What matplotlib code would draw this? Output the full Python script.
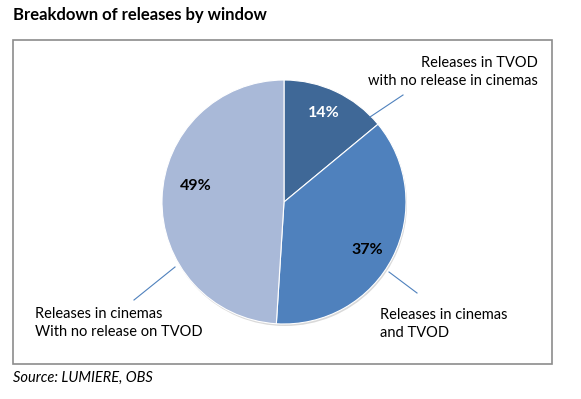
import matplotlib.pyplot as plt
from matplotlib.patches import Rectangle

# Data
labels = ["Releases in TVOD\nwith no release in cinemas",
          "Releases in cinemas\nand TVOD",
          "Releases in cinemas\nWith no release on TVOD"]
shares = [14, 37, 49]
colors = ["#3F6897", "#4F81BD", "#A9B9D8"]

plt.rcParams['font.family'] = ['Lato', 'DejaVu Sans']

W, H = 581, 399
fig = plt.figure(figsize=(W / 100, H / 100), dpi=100)
ax = fig.add_axes([0, 0, 1, 1])

def Y(y):
    # pixel row (from top) -> data y
    return H - y

cx, cy, r = 284, 202, 122

# subtle shadow under the pie
ax.pie([1], colors=["#D9D9D9"], radius=r, center=(cx + 1, Y(cy) - 2),
       wedgeprops=dict(linewidth=0))
wedges, _ = ax.pie(shares, colors=colors, startangle=90, counterclock=False,
                   radius=r, center=(cx, Y(cy)),
                   wedgeprops=dict(edgecolor="white", linewidth=0.8))

# percentage labels
pct_pos = [(324, 113), (367, 250), (196, 186)]
pct_col = ["white", "black", "black"]
for v, (px, py), c in zip(shares, pct_pos, pct_col):
    ax.text(px, Y(py), f"{v}%", ha="center", va="center", fontsize=11.5,
            fontweight="bold", color=c)

# leader lines and category labels
lines = [((370, 117), (403, 95)), ((389, 272), (417, 293)), ((175, 267), (134, 300))]
for (x0, y0), (x1, y1) in lines:
    ax.plot([x0, x1], [Y(y0), Y(y1)], color="#4F81BD", lw=0.8)

ax.text(538, Y(72), labels[0], ha="right", va="center", fontsize=10.5,
        linespacing=1.45)
ax.text(380, Y(324), labels[1], ha="left", va="center", fontsize=10.5,
        linespacing=1.45)
ax.text(35, Y(323), labels[2], ha="left", va="center", fontsize=10.5,
        linespacing=1.45)

# frame around the chart
ax.add_patch(Rectangle((13, Y(364)), 539, 324, fill=False,
                       edgecolor="#8C8C8C", lw=1.2))

ax.text(13, Y(15), "Breakdown of releases by window", ha="left", va="center",
        fontsize=12, fontweight="bold")
ax.text(13, Y(378), "Source: LUMIERE, OBS", ha="left", va="center",
        fontsize=10.5, style="italic")

ax.set_xlim(0, W)
ax.set_ylim(0, H)
ax.set_aspect("auto")
ax.axis("off")

fig.savefig("out.png", dpi=100)
